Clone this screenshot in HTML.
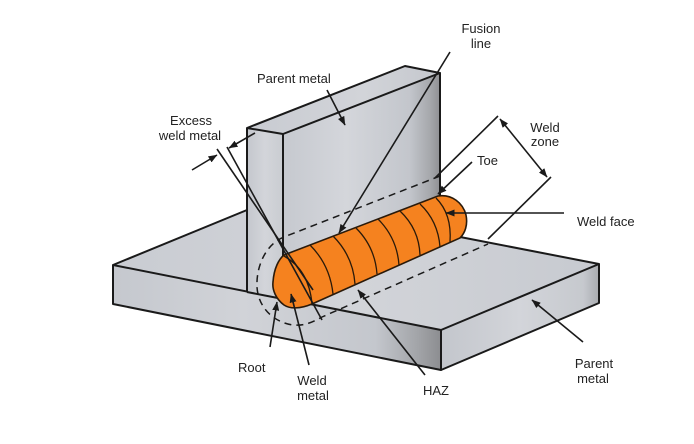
<!DOCTYPE html>
<html><head><meta charset="utf-8">
<style>html,body{margin:0;padding:0;background:#fff;}svg{display:block}</style>
</head>
<body>
<svg width="694" height="444" viewBox="0 0 694 444" xmlns="http://www.w3.org/2000/svg">
<defs>
<marker id="ah" markerUnits="userSpaceOnUse" markerWidth="9" markerHeight="7" refX="8.5" refY="3.5" orient="auto"><path d="M0,0 L9,3.5 L0,7 z" fill="#1a1a1a"/></marker>
<marker id="as" markerUnits="userSpaceOnUse" markerWidth="9" markerHeight="7" refX="8.5" refY="3.5" orient="auto-start-reverse"><path d="M0,0 L9,3.5 L0,7 z" fill="#1a1a1a"/></marker>
<linearGradient id="gBaseFront" gradientUnits="userSpaceOnUse" x1="113" y1="0" x2="441" y2="0">
<stop offset="0" stop-color="#c5c8ce"/><stop offset="0.4" stop-color="#d1d3d8"/><stop offset="0.8" stop-color="#c4c7cd"/><stop offset="0.93" stop-color="#a2a4a8"/><stop offset="1" stop-color="#8c8d90"/></linearGradient>
<linearGradient id="gBaseRight" gradientUnits="userSpaceOnUse" x1="441" y1="0" x2="599" y2="0">
<stop offset="0" stop-color="#c3c6cc"/><stop offset="0.5" stop-color="#d3d5da"/><stop offset="0.9" stop-color="#c6c9ce"/><stop offset="1" stop-color="#a9abaf"/></linearGradient>
<linearGradient id="gBaseTop" gradientUnits="userSpaceOnUse" x1="113" y1="0" x2="599" y2="0">
<stop offset="0" stop-color="#c9ccd2"/><stop offset="0.5" stop-color="#d2d4d9"/><stop offset="1" stop-color="#c7cad0"/></linearGradient>
<linearGradient id="gPlateLeft" gradientUnits="userSpaceOnUse" x1="247" y1="0" x2="283" y2="0">
<stop offset="0" stop-color="#c4c7cd"/><stop offset="0.5" stop-color="#d3d5da"/><stop offset="1" stop-color="#c9ccd1"/></linearGradient>
<linearGradient id="gPlateFront" gradientUnits="userSpaceOnUse" x1="283" y1="0" x2="441" y2="0">
<stop offset="0" stop-color="#c6c9cf"/><stop offset="0.4" stop-color="#d4d6db"/><stop offset="0.8" stop-color="#c3c6cc"/><stop offset="0.93" stop-color="#a6a8ac"/><stop offset="1" stop-color="#8d8e91"/></linearGradient>
<linearGradient id="gPlateTop" gradientUnits="userSpaceOnUse" x1="247" y1="0" x2="441" y2="0">
<stop offset="0" stop-color="#c8cbd1"/><stop offset="0.6" stop-color="#d2d4d9"/><stop offset="1" stop-color="#c4c7cd"/></linearGradient>
</defs>

<!-- Base plate -->
<polygon points="113,265 247,210 441,210 441,233 599,264 441,330" fill="url(#gBaseTop)"/>
<polygon points="113,265 441,330 441,370 113,304" fill="url(#gBaseFront)" stroke="#1a1a1a" stroke-width="2" stroke-linejoin="round"/>
<polygon points="441,330 599,264 599,303 441,370" fill="url(#gBaseRight)" stroke="#1a1a1a" stroke-width="2" stroke-linejoin="round"/>
<line x1="113" y1="265" x2="247" y2="210" stroke="#1a1a1a" stroke-width="2"/>
<line x1="599" y1="264" x2="455" y2="236" stroke="#1a1a1a" stroke-width="2"/>

<!-- Vertical plate -->
<polygon points="247,128 283,134 283,299 247,292" fill="url(#gPlateLeft)"/>
<polygon points="283,134 440,73 440,238 283,299" fill="url(#gPlateFront)"/>
<polygon points="247,128 405,66 440,73 283,134" fill="url(#gPlateTop)" stroke="#1a1a1a" stroke-width="2" stroke-linejoin="round"/>
<line x1="247" y1="128" x2="247" y2="292" stroke="#1a1a1a" stroke-width="2"/>
<line x1="283" y1="134" x2="283" y2="299" stroke="#1a1a1a" stroke-width="2"/>
<line x1="440" y1="73" x2="440" y2="238" stroke="#1a1a1a" stroke-width="2"/>
<line x1="247" y1="292" x2="283" y2="299" stroke="#1a1a1a" stroke-width="2"/>

<!-- HAZ dashed boundary -->
<path d="M440,176 L284,237 C266,244 256,266 257,287 C258,306 272,322 293,325 C305,326 313,322 322,317 L488,244" fill="none" stroke="#1a1a1a" stroke-width="1.5" stroke-dasharray="7,5"/>

<!-- Weld bead -->
<path d="M284,255 L438,196 C452,194 463,203 466,215 C468,225 465,233 460,238 L312,304 C300,309 290,309 284,305 C276,299 272,290 273,282 C274,268 279,259 284,255 Z" fill="#f5821f" stroke="#2a1a0a" stroke-width="1.6"/>
<g fill="none" stroke="#2a1a0a" stroke-width="1.3">
<path d="M284,256 Q309,270 312,304"/>
<path d="M310,245 Q330,265 333,294"/>
<path d="M333,236 Q353,256 355,284"/>
<path d="M356,228 Q375,247 377,274"/>
<path d="M378,219 Q397,238 399,265"/>
<path d="M400,211 Q419,229 420,255"/>
<path d="M420,204 Q438,221 440,247"/>
<path d="M436,198 Q452,214 450,242"/>
</g>

<!-- Excess weld metal lines -->
<line x1="217" y1="149" x2="313" y2="290" stroke="#1a1a1a" stroke-width="1.6"/>
<line x1="227" y1="147" x2="322" y2="320" stroke="#1a1a1a" stroke-width="1.6"/>

<!-- Weld zone dimension -->
<line x1="435" y1="178" x2="498" y2="116" stroke="#1a1a1a" stroke-width="1.6"/>
<line x1="488" y1="239" x2="551" y2="177" stroke="#1a1a1a" stroke-width="1.6"/>
<line x1="500" y1="119" x2="547" y2="177" stroke="#1a1a1a" stroke-width="1.6" marker-start="url(#as)" marker-end="url(#as)"/>

<!-- Leaders -->
<g stroke="#1a1a1a" stroke-width="1.6" fill="none" marker-end="url(#ah)">
<line x1="450" y1="52" x2="339" y2="233"/>
<line x1="327" y1="90" x2="345" y2="125"/>
<line x1="192" y1="170" x2="217" y2="155"/>
<line x1="255" y1="133" x2="229" y2="148"/>
<line x1="472" y1="162" x2="438" y2="194"/>
<line x1="564" y1="213" x2="446" y2="213"/>
<line x1="583" y1="342" x2="532" y2="300"/>
<line x1="425" y1="375" x2="358" y2="290"/>
<line x1="309" y1="365" x2="291" y2="294"/>
<line x1="270" y1="347" x2="277" y2="302"/>
</g>

<!-- Labels -->
<g font-family="'Liberation Sans', Arial, sans-serif" font-size="13" fill="#222">
<text x="481" y="33" text-anchor="middle">Fusion</text>
<text x="481" y="48" text-anchor="middle">line</text>
<text x="257" y="83">Parent metal</text>
<text x="191" y="125" text-anchor="middle">Excess</text>
<text x="190" y="140" text-anchor="middle">weld metal</text>
<text x="545" y="132" text-anchor="middle">Weld</text>
<text x="545" y="146" text-anchor="middle">zone</text>
<text x="477" y="165">Toe</text>
<text x="577" y="226">Weld face</text>
<text x="594" y="368" text-anchor="middle">Parent</text>
<text x="593" y="383" text-anchor="middle">metal</text>
<text x="423" y="395">HAZ</text>
<text x="312" y="385" text-anchor="middle">Weld</text>
<text x="313" y="400" text-anchor="middle">metal</text>
<text x="238" y="372">Root</text>
</g>
</svg>
</body></html>
